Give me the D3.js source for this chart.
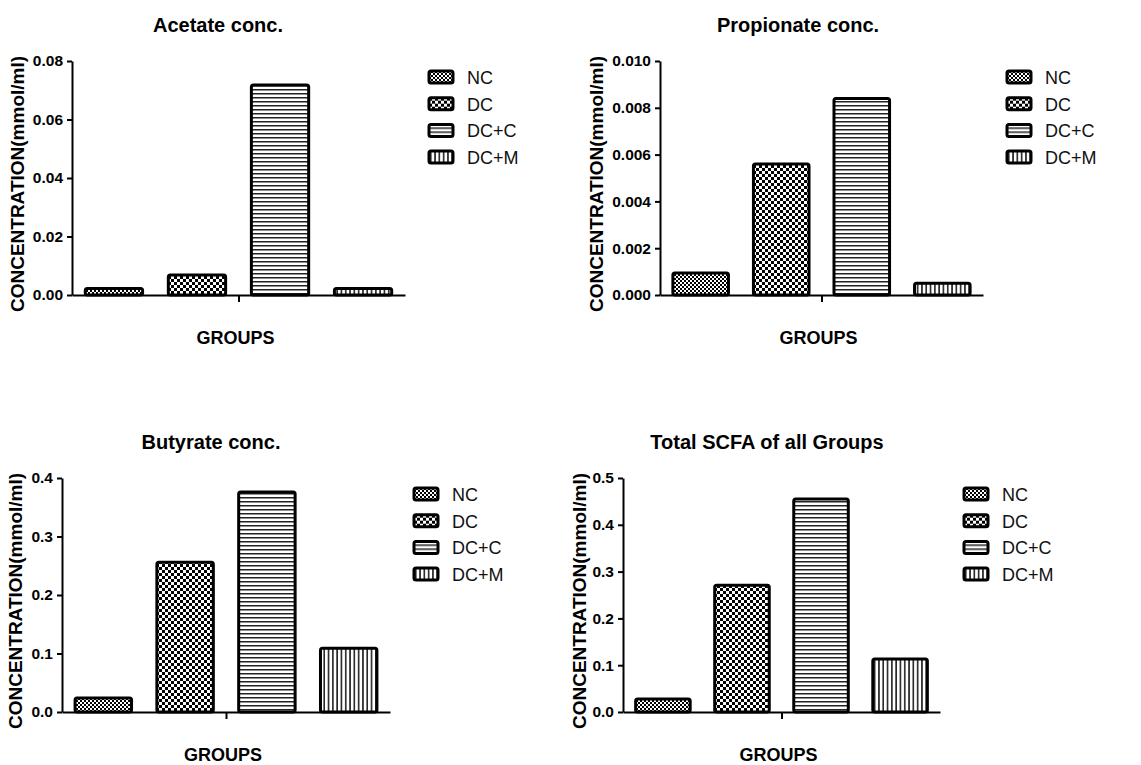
<!DOCTYPE html>
<html>
<head>
<meta charset="utf-8">
<script src="https://cdn.jsdelivr.net/npm/d3@7"></script>
<style>
  body { margin: 0; background: #fff; }
  text { font-family: Arial, "Liberation Sans", sans-serif; }
  .axis path, .axis line { stroke: #000; stroke-width: 2px; }
  .axis text { font-size: 15.5px; font-weight: bold; fill: #000; }
  .title { font-size: 20px; font-weight: bold; }
  .axis-label { font-size: 18px; font-weight: bold; }
  .y-label { font-size: 19px; }
  .legend text { font-size: 18px; fill: #111; }
</style>
</head>
<body>
<div id="chart"></div>
<script>
// groups and values
const groups = ["NC", "DC", "DC+C", "DC+M"];
const acetate = [0.0022, 0.0068, 0.0718, 0.0022];
const propionate = [0.00094, 0.0056, 0.0084, 0.0005];
const butyrate = [0.024, 0.256, 0.376, 0.109];
const totalScfa = [0.028, 0.271, 0.455, 0.113];

const acetateTicks = [0, 0.02, 0.04, 0.06, 0.08];
const propionateTicks = [0, 0.002, 0.004, 0.006, 0.008, 0.010];
const butyrateTicks = [0, 0.1, 0.2, 0.3, 0.4];
const totalTicks = [0, 0.1, 0.2, 0.3, 0.4, 0.5];

const titles = ["Acetate conc.", "Propionate conc.", "Butyrate conc.", "Total SCFA of all Groups"];
const yTitle = "CONCENTRATION(mmol/ml)";
const xTitle = "GROUPS";

const width = 1141, height = 765;

const svg = d3.select("#chart").append("svg")
    .attr("width", width)
    .attr("height", height);

// fill patterns, one per group
const defs = svg.append("defs");

const nc = defs.append("pattern").attr("id", "pat-0")
    .attr("patternUnits", "userSpaceOnUse").attr("width", 4).attr("height", 4);
nc.append("rect").attr("width", 4).attr("height", 4).attr("fill", "#fff");
nc.append("rect").attr("width", 2).attr("height", 2).attr("fill", "#000");
nc.append("rect").attr("x", 2).attr("y", 2).attr("width", 2).attr("height", 2).attr("fill", "#000");

const dc = defs.append("pattern").attr("id", "pat-1")
    .attr("patternUnits", "userSpaceOnUse").attr("width", 6).attr("height", 6);
dc.append("rect").attr("width", 6).attr("height", 6).attr("fill", "#fff");
dc.append("rect").attr("width", 3).attr("height", 3).attr("fill", "#000");
dc.append("rect").attr("x", 3).attr("y", 3).attr("width", 3).attr("height", 3).attr("fill", "#000");

const hz = defs.append("pattern").attr("id", "pat-2")
    .attr("patternUnits", "userSpaceOnUse").attr("width", 4).attr("height", 4);
hz.append("rect").attr("width", 4).attr("height", 4).attr("fill", "#fff");
hz.append("rect").attr("y", 1).attr("width", 4).attr("height", 1.5).attr("fill", "#222");

const vt = defs.append("pattern").attr("id", "pat-3")
    .attr("patternUnits", "userSpaceOnUse").attr("width", 4.3).attr("height", 4);
vt.append("rect").attr("width", 4.3).attr("height", 4).attr("fill", "#fff");
vt.append("rect").attr("x", 1).attr("width", 1.5).attr("height", 4).attr("fill", "#111");

// panel layout (pixels)
const panels = [
    { values: acetate, ticks: acetateTicks, fmt: ".2f", x0: 72, x1: 405, top: 61, base: 295, titleX: 218, yLabelX: 17 },
    { values: propionate, ticks: propionateTicks, fmt: ".3f", x0: 660, x1: 983, top: 61, base: 295, titleX: 798, yLabelX: 596 },
    { values: butyrate, ticks: butyrateTicks, fmt: ".1f", x0: 62, x1: 390, top: 478, base: 712, titleX: 211, yLabelX: 15 },
    { values: totalScfa, ticks: totalTicks, fmt: ".1f", x0: 623, x1: 940, top: 478, base: 712, titleX: 767, yLabelX: 579 }
];

panels.forEach((p, i) => drawPanel(p, titles[i]));

function drawPanel(p, title) {
    const g = svg.append("g");
    const data = groups.map((name, i) => ({ name: name, value: p.values[i], idx: i }));

    const x = d3.scaleBand()
        .domain(groups)
        .range([p.x0, p.x1])
        .paddingInner(0.31)
        .paddingOuter(0.16);

    const y = d3.scaleLinear()
        .domain([0, d3.max(p.ticks)])
        .range([p.base, p.top]);

    // bars
    g.selectAll(".bar")
        .data(data)
        .enter()
        .append("rect")
        .attr("class", "bar")
        .attr("x", d => x(d.name))
        .attr("y", d => y(d.value))
        .attr("width", x.bandwidth())
        .attr("height", d => y(0) - y(d.value))
        .attr("rx", 2)
        .attr("fill", d => "url(#pat-" + d.idx + ")")
        .attr("stroke", "#000")
        .attr("stroke-width", 3);

    // y axis
    g.append("g")
        .attr("class", "axis")
        .attr("transform", "translate(" + p.x0 + ",0)")
        .call(d3.axisLeft(y)
            .tickValues(p.ticks)
            .tickFormat(d3.format(p.fmt))
            .tickSize(5)
            .tickSizeOuter(0)
            .tickPadding(4));

    // x axis: one line with a single centre tick
    const xLine = d3.scaleLinear().domain([0, 1]).range([p.x0, p.x1]);
    g.append("g")
        .attr("class", "axis")
        .attr("transform", "translate(0," + p.base + ")")
        .call(d3.axisBottom(xLine)
            .tickValues([0.5])
            .tickFormat("")
            .tickSize(7)
            .tickSizeOuter(0));

    // titles
    g.append("text")
        .attr("class", "title")
        .attr("text-anchor", "middle")
        .attr("x", p.titleX)
        .attr("y", p.top - 29)
        .text(title);

    g.append("text")
        .attr("class", "axis-label y-label")
        .attr("text-anchor", "middle")
        .attr("transform", "translate(" + (p.yLabelX + 7) + "," + ((p.top + p.base) / 2 + 6) + ") rotate(-90)")
        .text(yTitle);

    g.append("text")
        .attr("class", "axis-label")
        .attr("text-anchor", "middle")
        .attr("x", (p.x0 + p.x1) / 2 - 3)
        .attr("y", p.base + 49)
        .text(xTitle);

    // legend
    const legend = g.append("g")
        .attr("class", "legend")
        .attr("transform", "translate(" + (p.x1 + 24) + "," + (p.top + 16) + ")");

    const rows = legend.selectAll(".row")
        .data(data)
        .enter()
        .append("g")
        .attr("class", "row")
        .attr("transform", d => "translate(0," + d.idx * 26.7 + ")");

    rows.append("rect")
        .attr("x", 0)
        .attr("y", -6)
        .attr("width", 24)
        .attr("height", 12)
        .attr("rx", 2)
        .attr("fill", d => "url(#pat-" + d.idx + ")")
        .attr("stroke", "#000")
        .attr("stroke-width", 3);

    rows.append("text")
        .attr("x", 38)
        .attr("y", 7)
        .text(d => d.name);
}
</script>
</body>
</html>
